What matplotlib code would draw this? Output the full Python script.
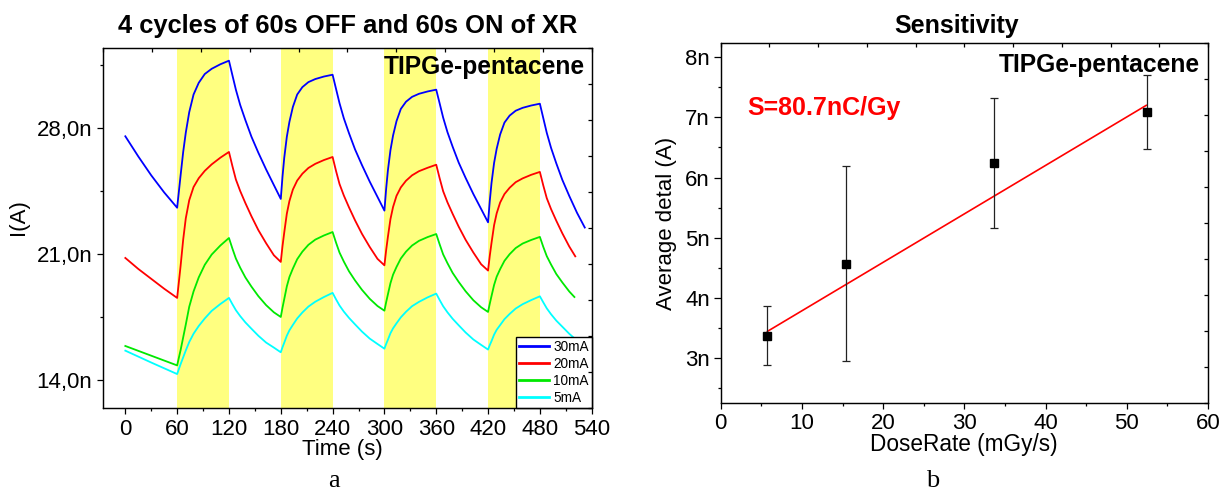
# Two panel figure: XR on/off cycles (a) and sensitivity fit (b)
import numpy as np
import matplotlib.pyplot as plt
from matplotlib.ticker import MultipleLocator
#=================================================================================================

# Panel a : time axis (s), shared by all four curves up to the last peak at 480 s
time = [0, 15, 30, 45,
        60, 62, 64, 67, 70, 74, 79, 85, 92, 100, 110, 120, 124, 128, 133, 139, 146, 154, 163, 172,
        180, 182, 184, 187, 190, 194, 199, 205, 212, 220, 230, 240, 244, 248, 253, 259, 266, 274, 283, 292,
        300, 302, 304, 307, 310, 314, 319, 325, 332, 340, 350, 360, 364, 368, 373, 379, 386, 394, 403, 412,
        420, 422, 424, 427, 430, 434, 439, 445, 452, 460, 470, 480]

# current (nA) for each tube current
i_30mA = [27.52, 26.4, 25.35, 24.4,
          23.55, 24.45, 25.35, 26.65, 27.72, 28.86, 29.84, 30.49, 30.98, 31.27, 31.52, 31.72,
          30.91, 30.11, 29.26, 28.42, 27.50, 26.61, 25.68, 24.81,
          24.04, 25.28, 26.32, 27.49, 28.32, 29.15, 29.84, 30.25, 30.53, 30.70, 30.84, 30.94,
          30.15, 29.36, 28.52, 27.69, 26.79, 25.92, 25.00, 24.15,
          23.39, 24.60, 25.61, 26.75, 27.56, 28.36, 29.04, 29.44, 29.71, 29.88, 30.01, 30.11,
          29.34, 28.56, 27.75, 26.94, 26.06, 25.21, 24.31, 23.48,
          22.74, 23.93, 24.92, 26.04, 26.83, 27.62, 28.28, 28.67, 28.94, 29.10, 29.23, 29.33]
i_20mA = [20.76, 20.15, 19.6, 19.05,
          18.54, 19.43, 20.32, 21.78, 22.96, 23.97, 24.70, 25.19, 25.60, 25.96, 26.33, 26.65,
          25.86, 25.12, 24.48, 23.81, 23.08, 22.31, 21.58, 20.91,
          20.54, 21.42, 22.17, 23.22, 23.92, 24.56, 25.06, 25.44, 25.76, 25.99, 26.20, 26.37,
          25.59, 24.87, 24.23, 23.57, 22.85, 22.10, 21.37, 20.71,
          20.35, 21.19, 21.92, 22.92, 23.59, 24.21, 24.68, 25.05, 25.35, 25.58, 25.77, 25.94,
          25.18, 24.47, 23.85, 23.21, 22.50, 21.77, 21.06, 20.41,
          20.06, 20.88, 21.59, 22.58, 23.24, 23.84, 24.31, 24.66, 24.97, 25.18, 25.38, 25.54]
i_10mA = [15.87, 15.6, 15.33, 15.06,
          14.79, 15.22, 15.64, 16.35, 17.06, 18.05, 18.90, 19.68, 20.38, 20.95, 21.45, 21.87,
          21.28, 20.73, 20.22, 19.68, 19.17, 18.64, 18.14, 17.74,
          17.48, 18.00, 18.47, 19.18, 19.70, 20.17, 20.69, 21.11, 21.49, 21.78, 22.01, 22.2,
          21.61, 21.06, 20.56, 20.02, 19.51, 18.99, 18.49, 18.09,
          17.83, 18.30, 18.73, 19.36, 19.83, 20.26, 20.73, 21.11, 21.45, 21.71, 21.92, 22.09,
          21.51, 20.96, 20.47, 19.93, 19.43, 18.91, 18.41, 18.02,
          17.76, 18.22, 18.64, 19.26, 19.72, 20.14, 20.60, 20.97, 21.31, 21.56, 21.76, 21.93]
i_5mA = [15.61, 15.28, 14.95, 14.63,
         14.31, 14.59, 14.86, 15.24, 15.62, 16.09, 16.55, 16.98, 17.40, 17.82, 18.20, 18.54,
         18.19, 17.86, 17.53, 17.18, 16.83, 16.44, 16.06, 15.78,
         15.52, 15.80, 16.05, 16.44, 16.74, 17.04, 17.40, 17.73, 18.06, 18.33, 18.59, 18.82,
         18.46, 18.12, 17.78, 17.43, 17.07, 16.67, 16.28, 15.98,
         15.72, 15.98, 16.21, 16.58, 16.85, 17.13, 17.46, 17.77, 18.08, 18.32, 18.57, 18.78,
         18.42, 18.08, 17.74, 17.38, 17.02, 16.62, 16.23, 15.93,
         15.67, 15.92, 16.14, 16.50, 16.77, 17.03, 17.36, 17.65, 17.95, 18.19, 18.42, 18.63]

# last OFF period, each curve stops at a slightly different time
tail_t_30mA = [484, 488, 493, 499, 506, 514, 523, 532]
tail_v_30mA = [28.52, 27.71, 26.87, 26.02, 25.10, 24.21, 23.27, 22.45]
tail_t_20mA = [484, 488, 493, 499, 506, 514, 521]
tail_v_20mA = [24.78, 24.08, 23.47, 22.83, 22.13, 21.40, 20.85]
tail_t_10mA = [484, 488, 493, 499, 506, 514, 520]
tail_v_10mA = [21.37, 20.86, 20.39, 19.87, 19.40, 18.90, 18.59]
tail_t_5mA = [484, 488, 493, 499, 506, 514, 523, 530]
tail_v_5mA = [18.29, 17.96, 17.63, 17.28, 16.94, 16.55, 16.17, 15.95]

labels = ['30mA', '20mA', '10mA', '5mA']
colors = ['#0000ff', '#ff0000', '#00e800', '#00ffff']

# X-ray ON windows (s)
xr_on = [(60, 120), (180, 240), (300, 360), (420, 480)]

# Panel b : dose rate (mGy/s), average delta current (nA) and error
dose_rate = [5.75, 15.41, 33.62, 52.53]
avg_delta = [3.375, 4.57, 6.245, 7.09]
delta_err = [0.495, 1.62, 1.08, 0.615]
fit_x = [5.75, 52.4]
fit_y = [3.445, 7.20]

#=================================================================================================

plt.rcParams['font.family'] = ['Liberation Sans', 'DejaVu Sans']
fig = plt.figure(figsize=(12.24, 4.93), dpi=100)

ax1 = fig.add_axes([0.0844, 0.173, 0.399, 0.7302])
ax2 = fig.add_axes([0.5888, 0.1819, 0.3981, 0.7314])


def frame_ticks(ax):
    # unlabeled inward ticks on top and right, 10 even steps like the original
    top = ax.twiny()
    top.set_xlim(0, 10)
    top.set_xticks(range(11))
    top.tick_params(axis='x', direction='in', length=3.2, width=0.9, labeltop=False)
    right = ax.twinx()
    right.set_ylim(0, 10)
    right.set_yticks(range(11))
    right.tick_params(axis='y', direction='in', length=3.2, width=0.9, labelright=False)


#==================================== Panel a ===================================================
for a, b in xr_on:
    ax1.axvspan(a, b, color='#ffff80', lw=0, zorder=0)

series = [(i_30mA, tail_t_30mA, tail_v_30mA),
          (i_20mA, tail_t_20mA, tail_v_20mA),
          (i_10mA, tail_t_10mA, tail_v_10mA),
          (i_5mA, tail_t_5mA, tail_v_5mA)]
for (vals, tt, tv), lab, col in zip(series, labels, colors):
    ax1.plot(time + tt, vals + tv, color=col, lw=1.3, label=lab, zorder=2)

ax1.set_xlim(-25.5, 540)
ax1.set_ylim(12.44, 32.44)
ax1.set_xticks(range(0, 541, 60))
ax1.xaxis.set_minor_locator(MultipleLocator(30))
ax1.set_yticks([14, 21, 28])
ax1.set_yticklabels(['14,0n', '21,0n', '28,0n'])
ax1.yaxis.set_minor_locator(MultipleLocator(3.5))
ax1.tick_params(which='major', direction='out', length=4, width=0.9, labelsize=16, pad=4)
ax1.tick_params(which='minor', direction='out', length=2.3, width=0.9)
for s in ax1.spines.values():
    s.set_linewidth(0.9)

ax1.set_xlabel('Time (s)', fontsize=16)
ax1.xaxis.set_label_coords(0.49, -0.087)
ax1.set_ylabel('I(A)', fontsize=16)
ax1.yaxis.set_label_coords(-0.152, 0.53)
ax1.set_title('4 cycles of 60s OFF and 60s ON of XR', fontsize=18.4, fontweight='bold', pad=10.5)
ax1.text(0.9857, 0.928, 'TIPGe-pentacene', transform=ax1.transAxes, ha='right', va='baseline',
         fontsize=17.7, fontweight='bold')

leg = ax1.legend(loc='lower right', bbox_to_anchor=(1.0, 0.0), fontsize=9.8, frameon=True,
                 fancybox=False, edgecolor='black', framealpha=1, borderaxespad=0,
                 borderpad=0.2, labelspacing=0.22, handlelength=2.2, handletextpad=0.35)
leg.get_frame().set_linewidth(1.0)
for line in leg.get_lines():
    line.set_linewidth(2)
leg.set_zorder(5)

frame_ticks(ax1)

#==================================== Panel b ===================================================
ax2.plot(fit_x, fit_y, color='#ff0000', lw=1.2, zorder=2)
ax2.errorbar(dose_rate, avg_delta, yerr=delta_err, fmt='s', color='black', ms=6,
             ecolor='#222222', elinewidth=0.9, capsize=3, capthick=0.9, zorder=3)

ax2.set_xlim(0, 60)
ax2.set_ylim(2.25, 8.24)
ax2.set_xticks(range(0, 61, 10))
ax2.xaxis.set_minor_locator(MultipleLocator(5))
ax2.set_yticks([3, 4, 5, 6, 7, 8])
ax2.set_yticklabels(['3n', '4n', '5n', '6n', '7n', '8n'])
ax2.yaxis.set_minor_locator(MultipleLocator(0.5))
ax2.tick_params(axis='y', which='major', direction='out', length=4.8, width=0.9, labelsize=16, pad=3)
ax2.tick_params(axis='x', which='major', direction='out', length=4, width=0.9, labelsize=16, pad=3)
ax2.tick_params(which='minor', direction='out', length=2.5, width=0.9)
for s in ax2.spines.values():
    s.set_linewidth(0.9)

ax2.set_xlabel('DoseRate (mGy/s)', fontsize=16.3)
ax2.xaxis.set_label_coords(0.499, -0.082)
ax2.set_ylabel('Average detal (A)', fontsize=16)
ax2.yaxis.set_label_coords(-0.09, 0.5)
ax2.set_title('Sensitivity', fontsize=18, fontweight='bold', x=0.484, pad=6.8)
ax2.text(0.9836, 0.92, 'TIPGe-pentacene', transform=ax2.transAxes, ha='right', va='baseline',
         fontsize=17.7, fontweight='bold')
ax2.text(0.0546, 0.80, 'S=80.7nC/Gy', transform=ax2.transAxes, ha='left', va='baseline',
         fontsize=18, fontweight='bold', color='#ff0000')

frame_ticks(ax2)

# panel letters
fig.text(0.2725, 6.0 / 493, 'a', ha='center', va='baseline', fontsize=19,
         family=['Liberation Serif', 'DejaVu Serif'])
fig.text(0.762, 6.0 / 493, 'b', ha='center', va='baseline', fontsize=19,
         family=['Liberation Serif', 'DejaVu Serif'])

fig.savefig('out.png', dpi=100)
